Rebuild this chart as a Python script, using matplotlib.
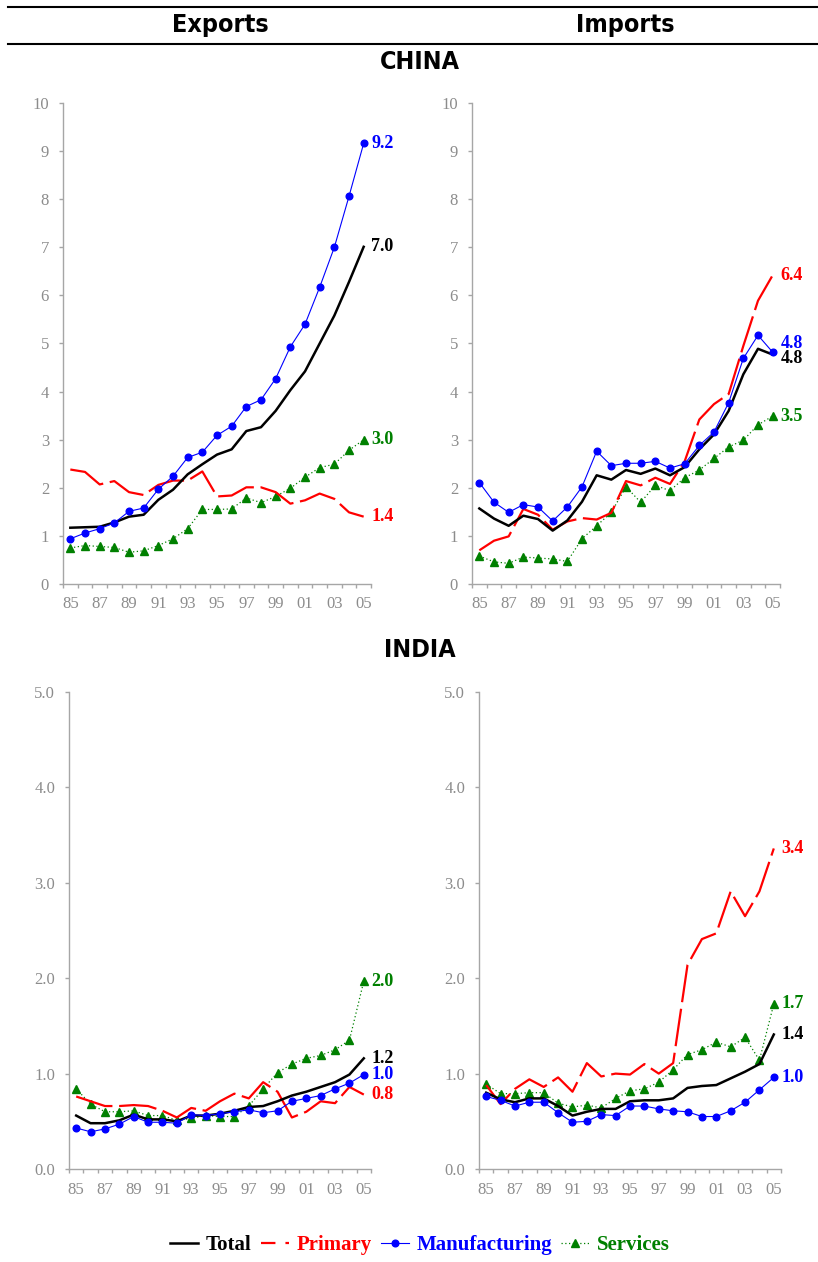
import matplotlib
matplotlib.use("Agg")
import matplotlib.pyplot as plt
from matplotlib.lines import Line2D
import numpy as np

plt.rcParams['font.family'] = ['Liberation Serif', 'DejaVu Serif']

years = list(range(85, 106))   # 1985 .. 2005

# China, exports
china_exp_total = [1.17, 1.18, 1.19, 1.28, 1.40, 1.44, 1.75, 1.96, 2.28, 2.49, 2.69,
                   2.80, 3.18, 3.26, 3.60, 4.03, 4.42, 5.00, 5.58, 6.28, 7.01]
china_exp_primary = [2.38, 2.33, 2.07, 2.14, 1.91, 1.85, 2.06, 2.15, 2.15, 2.34, 1.82,
                     1.84, 2.01, 2.01, 1.91, 1.67, 1.74, 1.88, 1.77, 1.49, 1.40]
china_exp_manuf = [0.94, 1.06, 1.15, 1.27, 1.51, 1.58, 1.97, 2.24, 2.63, 2.74, 3.09,
                   3.28, 3.69, 3.83, 4.27, 4.93, 5.40, 6.17, 7.00, 8.06, 9.16]
china_exp_services = [0.75, 0.80, 0.78, 0.76, 0.66, 0.69, 0.80, 0.94, 1.15, 1.55, 1.55,
                      1.56, 1.79, 1.69, 1.82, 1.99, 2.22, 2.42, 2.49, 2.78, 3.00]

# China, imports
china_imp_total = [1.57, 1.36, 1.21, 1.42, 1.35, 1.11, 1.32, 1.71, 2.26, 2.17, 2.37,
                   2.29, 2.40, 2.26, 2.43, 2.80, 3.11, 3.60, 4.36, 4.89, 4.77]
china_imp_primary = [0.70, 0.90, 0.99, 1.56, 1.44, 1.13, 1.30, 1.37, 1.34, 1.48, 2.14,
                     2.05, 2.21, 2.08, 2.55, 3.42, 3.74, 3.95, 4.95, 5.89, 6.42]
china_imp_manuf = [2.11, 1.70, 1.49, 1.65, 1.60, 1.31, 1.60, 2.02, 2.76, 2.46, 2.51,
                   2.51, 2.55, 2.41, 2.50, 2.88, 3.16, 3.77, 4.69, 5.17, 4.82]
china_imp_services = [0.58, 0.46, 0.43, 0.56, 0.54, 0.52, 0.47, 0.94, 1.21, 1.49, 2.02,
                      1.70, 2.05, 1.94, 2.21, 2.37, 2.61, 2.85, 2.99, 3.31, 3.49]

# India, exports
india_exp_total = [0.56, 0.48, 0.48, 0.51, 0.57, 0.52, 0.52, 0.50, 0.56, 0.56, 0.58,
                   0.61, 0.65, 0.66, 0.71, 0.77, 0.81, 0.86, 0.91, 0.99, 1.16]
india_exp_primary = [0.76, 0.71, 0.66, 0.66, 0.67, 0.66, 0.61, 0.54, 0.64, 0.61, 0.71,
                     0.79, 0.74, 0.91, 0.81, 0.54, 0.60, 0.71, 0.69, 0.86, 0.78]
india_exp_manuf = [0.43, 0.39, 0.42, 0.47, 0.55, 0.49, 0.49, 0.48, 0.57, 0.56, 0.58,
                   0.60, 0.62, 0.59, 0.61, 0.71, 0.74, 0.77, 0.84, 0.90, 0.99]
india_exp_services = [0.84, 0.68, 0.60, 0.60, 0.61, 0.56, 0.56, 0.51, 0.53, 0.56, 0.55,
                      0.55, 0.66, 0.84, 1.01, 1.10, 1.16, 1.19, 1.25, 1.35, 1.97]

# India, imports
india_imp_total = [0.80, 0.73, 0.70, 0.74, 0.74, 0.66, 0.56, 0.60, 0.63, 0.63, 0.71,
                   0.72, 0.72, 0.74, 0.85, 0.87, 0.88, 0.95, 1.02, 1.10, 1.41]
india_imp_primary = [0.88, 0.68, 0.84, 0.94, 0.86, 0.96, 0.81, 1.11, 0.97, 1.00, 0.99,
                     1.10, 1.00, 1.11, 2.14, 2.41, 2.47, 2.91, 2.65, 2.91, 3.36]
india_imp_manuf = [0.76, 0.72, 0.66, 0.70, 0.70, 0.59, 0.49, 0.50, 0.57, 0.56, 0.66,
                   0.66, 0.63, 0.61, 0.60, 0.55, 0.55, 0.61, 0.70, 0.83, 0.96]
india_imp_services = [0.89, 0.79, 0.79, 0.80, 0.80, 0.69, 0.65, 0.67, 0.64, 0.74, 0.82,
                      0.84, 0.91, 1.04, 1.20, 1.25, 1.33, 1.28, 1.38, 1.14, 1.73]

series_names = ['Total', 'Primary', 'Manufacturing', 'Services']

W, H = 818, 1262
GREY = '#a6a6a6'
TICK_GREY = '#8c8c8c'

styles = {
    'Total': dict(color='black', lw=1.8, zorder=4),
    'Primary': dict(color='#ff0000', lw=1.6, dashes=(17, 3), zorder=3),
    'Manufacturing': dict(color='#0000ff', lw=0.8, marker='o', ms=4.8, zorder=5),
    'Services': dict(color='#008000', lw=0.9, ls=(0, (1, 2)), marker='^',
                     ms=5.2, zorder=2),
}

fig = plt.figure(figsize=(W / 100, H / 100), dpi=100)


def px_rect(left, right, top, bottom):
    return [left / W, 1 - bottom / H, (right - left) / W, (bottom - top) / H]


def draw_panel(rect, total, primary, manuf, services, ymax, yfmt, label_dy=None):
    ax = fig.add_axes(rect)
    label_dy = label_dy or {}
    for name, vals in zip(series_names, [total, primary, manuf, services]):
        ax.plot(years, vals, label=name, **styles[name])
        ax.annotate(f"{vals[-1]:.1f}", xy=(years[-1], vals[-1]),
                    xytext=(5.5, label_dy.get(name, 0)), textcoords='offset points',
                    ha='left', va='center', fontsize=13, fontweight='bold',
                    color=styles[name]['color'], annotation_clip=False)

    ax.set_xlim(84.5, 105.5)
    ax.set_ylim(0, ymax)
    ax.set_xticks(years[::2])
    ax.set_xticklabels([f"{y % 100:02d}" for y in years[::2]])
    ax.set_xticks(np.arange(84.5, 106, 1.0), minor=True)
    ax.tick_params(axis='x', which='major', length=0, pad=9,
                   labelsize=12, labelcolor=TICK_GREY)
    ax.tick_params(axis='x', which='minor', length=3, width=1, color=GREY,
                   direction='out')
    ax.set_yticks(np.arange(0, ymax + 0.01, 1))
    ax.yaxis.set_major_formatter(yfmt)
    ax.tick_params(axis='y', length=3, width=1, color=GREY, pad=7,
                   labelsize=12, labelcolor=TICK_GREY)
    for s in ['top', 'right']:
        ax.spines[s].set_visible(False)
    for s in ['left', 'bottom']:
        ax.spines[s].set_color(GREY)
        ax.spines[s].set_linewidth(1.0)
    ax.patch.set_alpha(0)


int_fmt = plt.FuncFormatter(lambda v, p: f"{v:.0f}")
dec_fmt = plt.FuncFormatter(lambda v, p: f"{v:.1f}")

draw_panel(px_rect(63, 371, 103, 584), china_exp_total, china_exp_primary,
           china_exp_manuf, china_exp_services, 10, int_fmt)
draw_panel(px_rect(472, 780, 103, 584), china_imp_total, china_imp_primary,
           china_imp_manuf, china_imp_services, 10, int_fmt,
           label_dy={'Manufacturing': 6.5, 'Total': -3})
draw_panel(px_rect(69, 371, 692, 1169), india_exp_total, india_exp_primary,
           india_exp_manuf, india_exp_services, 5, dec_fmt)
draw_panel(px_rect(479, 781, 692, 1169), india_imp_total, india_imp_primary,
           india_imp_manuf, india_imp_services, 5, dec_fmt)

# header rules and titles
for y in (7, 44):
    fig.add_artist(Line2D([8 / W, 1], [1 - y / H, 1 - y / H], color='black', lw=1.5,
                          transform=fig.transFigure))
head = dict(family='DejaVu Sans', fontstretch='condensed', fontweight='bold',
            fontsize=18, ha='center', va='center')
fig.text(220 / W, 1 - 25 / H, 'Exports', **head)
fig.text(625 / W, 1 - 25 / H, 'Imports', **head)
fig.text(420 / W, 1 - 62 / H, 'CHINA', **head)
fig.text(420 / W, 1 - 650 / H, 'INDIA', **head)

# legend keys: the Primary key uses a shorter dash so its break shows
handles = []
for name in series_names:
    st = dict(styles[name])
    if name == 'Primary':
        st['dashes'] = (6.5, 4.5)
    handles.append(Line2D([], [], label=name, **st))
leg = fig.legend(handles=handles, loc='center', bbox_to_anchor=(420 / W, 1 - 1245 / H),
                 ncol=4, frameon=False, handlelength=1.35, handletextpad=0.35,
                 columnspacing=0.45, prop=dict(size=15, weight='bold'))
for txt, ln in zip(leg.get_texts(), handles):
    txt.set_color(ln.get_color())

fig.savefig('out.png', dpi=100)
